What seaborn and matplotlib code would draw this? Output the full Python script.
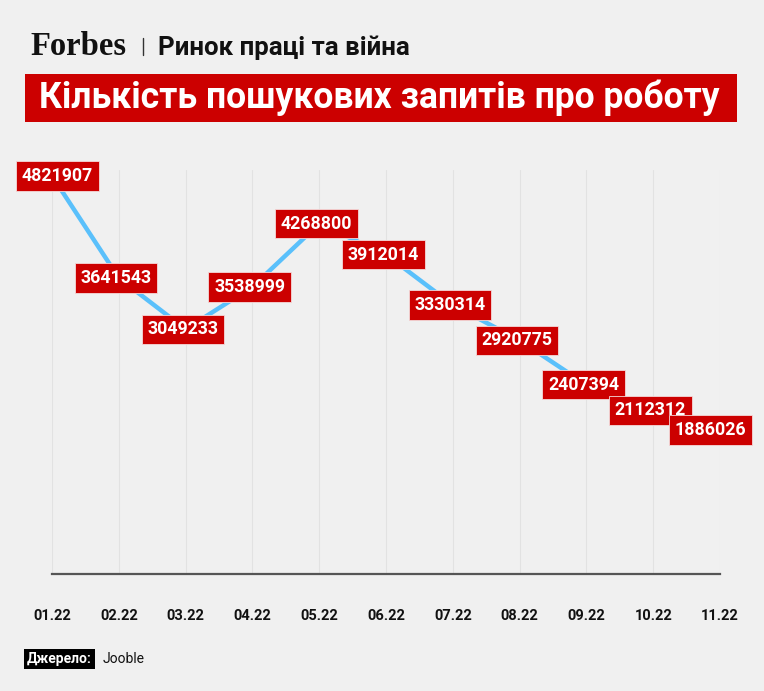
import matplotlib.pyplot as plt
import matplotlib.patches as mpatches
import matplotlib.lines as mlines
import pandas as pd
import seaborn as sns

months = ["01.22", "02.22", "03.22", "04.22", "05.22", "06.22",
          "07.22", "08.22", "09.22", "10.22", "11.22"]
searches = [4821907, 3641543, 3049233, 3538999, 4268800, 3912014,
            3330314, 2920775, 2407394, 2112312, 1886026]

title = "Кількість пошукових запитів про роботу"
subtitle = "Ринок праці та війна"
source_label = "Джерело:"
source_name = "Jooble"

BG = "#f0f0f0"
RED = "#cc0000"
BLUE = "#5ac0fb"

sns.set_theme(style="white")
plt.rcParams["font.family"] = ["Roboto", "DejaVu Sans"]

df = pd.DataFrame({"month": months, "searches": searches})
df["pos"] = range(len(df))

W, H = 764, 691
fig = plt.figure(figsize=(W / 100, H / 100), dpi=100, facecolor=BG)
ax = fig.add_axes([52 / W, 1 - 574 / H, 668 / W, 404 / H])
ax.set_facecolor(BG)

for x in df["pos"]:
    ax.axvline(x, color="#e2e2e2", lw=0.8, zorder=0)

sns.lineplot(data=df, x="pos", y="searches", ax=ax, color=BLUE, lw=3.2,
             sort=False, zorder=2)

ax.set_xlim(0, len(df) - 1)
ax.set_ylim(220000, 4890000)
ax.set_xticks(df["pos"])
ax.set_xticklabels(df["month"])
ax.set_yticks([])
ax.set_xlabel("")
ax.set_ylabel("")
ax.tick_params(axis="x", length=0, pad=25, labelsize=10.5, labelcolor="#111111")
for lab in ax.get_xticklabels():
    lab.set_fontweight("bold")
for side in ["top", "right", "left"]:
    ax.spines[side].set_visible(False)
ax.spines["bottom"].set_color("#555555")
ax.spines["bottom"].set_linewidth(1.6)

n = len(df)
for i, row in df.iterrows():
    dx = -2
    if i == 0:
        dx = 4
    elif i == n - 1:
        dx = -7
    ax.annotate(f"{row['searches']}", (row["pos"], row["searches"]),
                xytext=(dx, 0), textcoords="offset points",
                ha="center", va="center", color="white", fontsize=12.8,
                fontweight="bold", annotation_clip=False, zorder=5,
                bbox=dict(boxstyle="square,pad=0.32", fc=RED,
                          ec="#f4dada", lw=0.6))

# header
fig.text(30 / W, 1 - 55 / H, "Forbes", family=["Liberation Serif", "DejaVu Serif"],
         fontweight="bold", fontsize=23.5, color="#111111", ha="left",
         va="baseline")
fig.add_artist(mlines.Line2D([143 / W, 143 / W], [1 - 38 / H, 1 - 55 / H],
                             color="#333333", lw=1.0))
fig.text(158 / W, 1 - 55 / H, subtitle, fontsize=18.6, fontweight="bold",
         color="#111111", ha="left", va="baseline")

fig.add_artist(mpatches.Rectangle((25 / W, 1 - 122 / H), 712 / W, 48 / H,
                                  transform=fig.transFigure, fc=RED, ec="none"))
fig.text(379 / W, 1 - 98 / H, title, fontsize=25.6, fontweight="bold",
         color="white", ha="center", va="center")

# source
fig.text(27 / W, 1 - 659 / H, source_label, fontsize=10, fontweight="bold",
         color="white", ha="left", va="center",
         bbox=dict(boxstyle="square,pad=0.2", fc="black", ec="none"))
fig.text(103 / W, 1 - 659 / H, source_name, fontsize=10, color="#111111",
         ha="left", va="center")

fig.savefig("out.png", dpi=100, facecolor=BG)
